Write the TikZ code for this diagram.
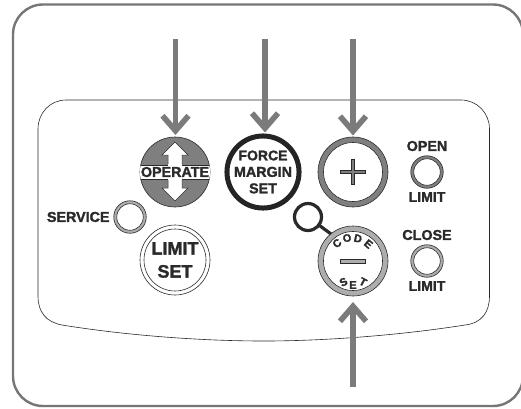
\documentclass[tikz,border=0pt]{standalone}
\usepackage{fontspec}
\setmainfont[BoldFont={Liberation Sans Bold},BoldFeatures={FakeBold=1.6}]{Liberation Sans}
\usetikzlibrary{arrows.meta}
\definecolor{ink}{HTML}{2A2A2A}
\definecolor{frame}{HTML}{767676}
\definecolor{pointer}{HTML}{7B7B7B}
\definecolor{midgray}{HTML}{7F7F7F}
\definecolor{lightgray}{HTML}{ADADAD}
\tikzset{
  every node/.style={inner sep=0pt, outer sep=0pt, text=ink, align=center, font=\bfseries},
  bigout/.style={circle, draw=ink, fill=#1, line width=.6pt, minimum size=70pt},
  bigin/.style={circle, draw=ink, fill=white, line width=.6pt, minimum size=59pt},
  ledout/.style={circle, draw=ink, fill=#1, line width=.6pt, minimum size=32.5pt},
  ledin/.style={circle, draw=ink, fill=white, line width=.6pt, minimum size=26.5pt},
  pointerline/.style={draw=pointer, line width=5.6pt, -{Straight Barb[length=15pt,width=26pt,line width=5.6pt]}},
  fa/.style={font=\fontsize{14.3}{16.5}\selectfont\bfseries},
  fb/.style={font=\fontsize{18}{23}\selectfont\bfseries},
  fc/.style={font=\fontsize{11}{12}\selectfont\bfseries},
}
\begin{document}
\begin{tikzpicture}[x=1pt,y=-1pt]
\useasboundingbox (0,0) rectangle (521,408);
\fill[white] (0,0) rectangle (521,408);
% outer frame
\draw[frame, line width=2.4pt, rounded corners=30pt] (13,4.5) rectangle (523,406);
% panel
\draw[ink, line width=.6pt] (66,100) -- (461,100)
  .. controls (477,100) and (489.5,113) .. (489.5,129)
  -- (489.5,296)
  .. controls (489.5,312) and (482,323) .. (465,325)
  .. controls (395,336) and (320,341) .. (264,341)
  .. controls (205,341) and (130,336) .. (62,325)
  .. controls (46,322) and (38,312) .. (38,296)
  -- (38,129)
  .. controls (38,113) and (50,100) .. (66,100) -- cycle;

% code LED
\node[circle, draw=ink, fill=white, line width=3.2pt, minimum size=27pt] (led) at (308,217) {};

% OPERATE button
\node[circle, draw=ink, fill=midgray, line width=.6pt, minimum size=70pt, outer sep=2pt] (operate) at (175,172) {};
\begin{scope}
  \clip (175,172) circle (35);
  \fill[white] (135,165) rectangle (215,179);
  \draw[ink, line width=.8pt] (135,165) -- (168,165) (182,165) -- (215,165);
  \draw[ink, line width=.8pt] (135,179) -- (168,179) (182,179) -- (215,179);
\end{scope}
\draw[ink, line width=.5pt, fill=white] (168,165.5) -- (168,155) -- (162,155) -- (175,142) -- (188,155) -- (182,155) -- (182,165.5);
\draw[ink, line width=.5pt, fill=white] (168,178.5) -- (168,188) -- (162,188) -- (175,201) -- (188,188) -- (182,188) -- (182,178.5);
\fill[white] (168.3,164) rectangle (181.7,180);
\node[fa] (operatetext) at (175,172) {OPERATE};

% FORCE MARGIN SET button
\node[circle, draw=ink!85!black, fill=white, line width=5pt, minimum size=65pt, outer sep=3.5pt, fa] (force) at (263,172) {\fontsize{14}{16.7}\selectfont FORCE\\MARGIN\\SET};

% plus button
\node[bigout=midgray, outer sep=1.5pt] (plus) at (353,172) {};
\node[bigin] (plusin) at (plus.center) {};
\draw[ink, line width=.5pt, fill=midgray] (340.5,170.7) -- (351.7,170.7) -- (351.7,159.5) -- (354.3,159.5) -- (354.3,170.7) -- (365.5,170.7) -- (365.5,173.3) -- (354.3,173.3) -- (354.3,184.5) -- (351.7,184.5) -- (351.7,173.3) -- (340.5,173.3) -- cycle;

% minus button
\draw[ink, line width=3.2pt] (led) -- (331,234);
\node[bigout=lightgray, outer sep=6pt] (minus) at (353,261) {};
\node[bigin] (minusin) at (minus.center) {};
\draw[ink, line width=.5pt, fill=lightgray] (340.5,259) rectangle (365.5,263);
\node[fc, rotate=40]  (codec) at (337,243.3) {C};
\node[fc, rotate=13]  (codeo) at (347,238)   {O};
\node[fc, rotate=-13] (coded) at (358,238.5) {D};
\node[fc, rotate=-40] (codee) at (368.5,244) {E};
\node[fc, rotate=28]  (sets)  at (343.5,282) {S};
\node[fc]             (sete)  at (353,285)   {E};
\node[fc, rotate=-28] (sett)  at (363,282)   {T};

% LIMIT SET button
\node[circle, draw=ink, fill=white, line width=.6pt, minimum size=70pt] (limitout) at (175,260) {};
\node[circle, draw=ink, fill=white, line width=.6pt, minimum size=62pt, fb] (limitset) at (limitout.center) {LIMIT\\SET};

% service
\node[ledout=lightgray] (service) at (130,217) {};
\node[ledin] (servicein) at (service.center) {};
\node[fa, anchor=east] (servicetext) at (109.5,217) {SERVICE};

% open / close limit
\node[fa] (opentext) at (427,146) {OPEN};
\node[ledout=midgray] (openled) at (427,172) {};
\node[ledin] (openin) at (openled.center) {};
\node[fa] (openlimit) at (427,197) {\fontsize{14}{16}\selectfont LIMIT};
\node[fa] (closetext) at (427,235) {CLOSE};
\node[ledout=lightgray] (closeled) at (427,261) {};
\node[ledin] (closein) at (closeled.center) {};
\node[fa] (closelimit) at (427,286) {\fontsize{14}{16}\selectfont LIMIT};

% pointers
\coordinate (p1) at (175.5,39);
\coordinate (p2) at (265,39);
\coordinate (p3) at (353,39);
\coordinate (p4) at (353,387);
\draw[pointerline] (p1) -- (p1 |- operate.north);
\draw[pointerline] (p2) -- (p2 |- force.north);
\draw[pointerline] (p3) -- (plus.north);
\draw[pointerline] (p4) -- (minus.south);
\end{tikzpicture}
\end{document}
